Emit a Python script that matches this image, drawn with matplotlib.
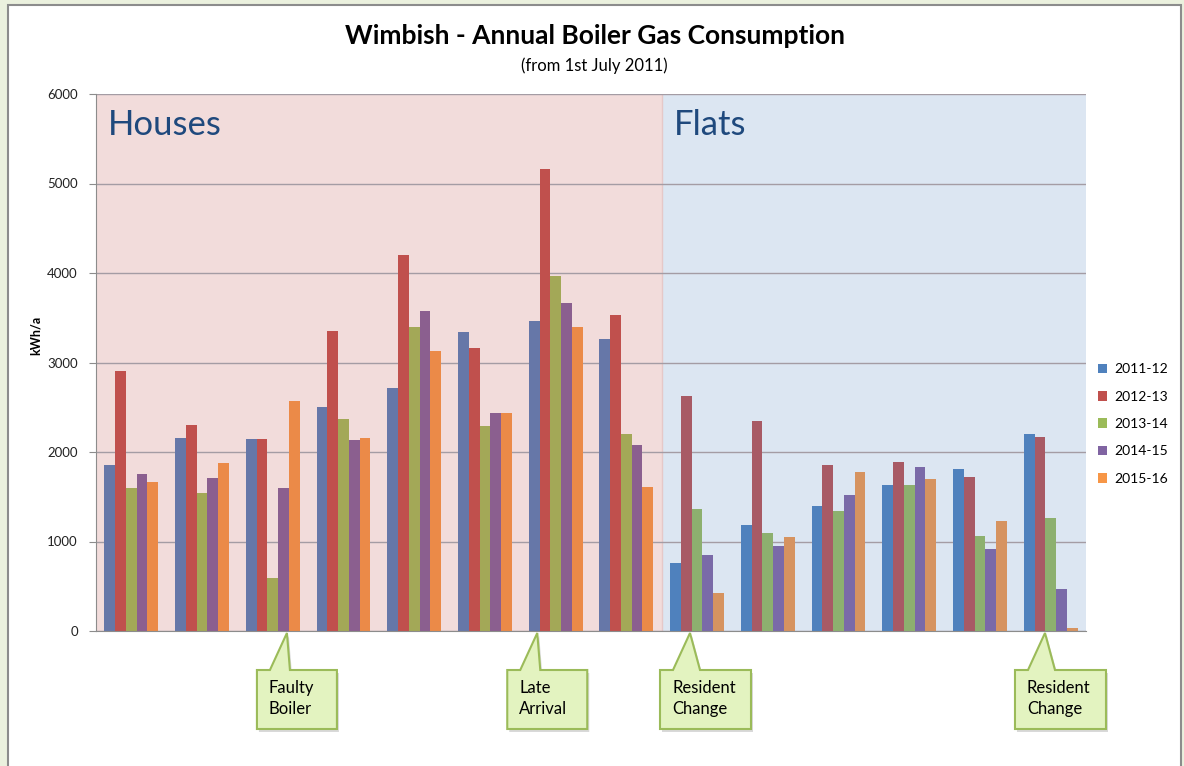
import matplotlib
matplotlib.use('Agg')
import matplotlib.pyplot as plt
import numpy as np
from matplotlib.patches import Patch, Polygon, Rectangle

plt.rcParams['font.family'] = ['Lato', 'DejaVu Sans']

# ---------------- data ----------------
units = ['House 1', 'House 2', 'House 3', 'House 4', 'House 5', 'House 6', 'House 7', 'House 8',
         'Flat 1', 'Flat 2', 'Flat 3', 'Flat 4', 'Flat 5', 'Flat 6']
n_houses = 8
years = ['2011-12', '2012-13', '2013-14', '2014-15', '2015-16']
y2011_12 = [1850, 2160, 2145, 2500, 2720, 3345, 3460, 3260, 760, 1180, 1400, 1630, 1810, 2205]
y2012_13 = [2910, 2305, 2145, 3355, 4200, 3160, 5160, 3530, 2625, 2350, 1860, 1885, 1725, 2165]
y2013_14 = [1600, 1540, 590, 2365, 3395, 2295, 3965, 2205, 1360, 1100, 1340, 1635, 1060, 1260]
y2014_15 = [1750, 1715, 1600, 2135, 3570, 2435, 3660, 2075, 845, 955, 1515, 1835, 915, 470]
y2015_16 = [1670, 1875, 2570, 2160, 3125, 2435, 3395, 1610, 420, 1050, 1780, 1700, 1230, 30]
series = [y2011_12, y2012_13, y2013_14, y2014_15, y2015_16]
yticks = [0, 1000, 2000, 3000, 4000, 5000, 6000]

callouts = [('Faulty\nBoiler', 2.20), ('Late\nArrival', 5.74),
            ('Resident\nChange', 7.90), ('Resident\nChange', 12.92)]

# ---------------- styles ----------------
legend_colors = ['#4F81BD', '#C0504D', '#9BBB59', '#8064A2', '#F79646']
house_colors = ['#6677A8', '#C0504D', '#A3A857', '#8B5F8F', '#EB8A48']
flat_colors = ['#4F81BD', '#A85A65', '#8DB06F', '#7A6AA8', '#D69360']

W, H = 1184, 766
fig = plt.figure(figsize=(W / 100, H / 100), dpi=100)
fig.patch.set_facecolor('#EBF1DE')
fig.patches.append(Rectangle((8 / W, -0.02), (1181 - 8) / W, (766 - 5) / H + 0.02,
                             transform=fig.transFigure, facecolor='white',
                             edgecolor='#8C8C8C', lw=1.5, zorder=-10))

ax = fig.add_axes([96 / W, 1 - 631 / H, (1086 - 96) / W, (631 - 94) / H], zorder=1)
ax.set_facecolor('none')
ax.set_xlim(-0.5, len(units) - 0.5)
ax.set_ylim(0, 6000)
ax.axvspan(-0.5, n_houses - 0.5, color='#F2DCDB', zorder=0, lw=0)
ax.axvspan(n_houses - 0.5, len(units) - 0.5, color='#DCE6F2', zorder=0, lw=0)
ax.axvline(n_houses - 0.5, color='#E6C8C8', lw=1.0, zorder=0.2)

ax.set_axisbelow(True)
ax.yaxis.grid(True, color='#A49CA4', lw=1.0)
ax.set_yticks(yticks)
ax.set_xticks([])
for s in ['top', 'right']:
    ax.spines[s].set_visible(False)
ax.spines['left'].set_color('#8C8C8C')
ax.spines['bottom'].set_color('#8C8C8C')
ax.tick_params(axis='y', direction='out', length=5, color='#8C8C8C', labelsize=9.5,
               pad=8, labelcolor='#222222')

w = 0.152
x = np.arange(len(units))
for i, vals in enumerate(series):
    cols = [house_colors[i] if k < n_houses else flat_colors[i] for k in range(len(units))]
    ax.bar(x + (i - 2) * w, vals, width=w, color=cols, zorder=2, lw=0)

# section labels
fig.text(108 / W, 1 - 125 / H, 'Houses', fontsize=25, color='#1F497D', va='center', ha='left')
fig.text(674 / W, 1 - 125 / H, 'Flats', fontsize=25, color='#1F497D', va='center', ha='left')

# titles
fig.text(595 / W, 1 - 36 / H, 'Wimbish - Annual Boiler Gas Consumption', fontsize=19,
         fontweight='bold', ha='center', va='center')
fig.text(594 / W, 1 - 66 / H, '(from 1st July 2011)', fontsize=12, ha='center', va='center')
fig.text(36 / W, 1 - 335 / H, 'kWh/a', fontsize=9, fontweight='bold', rotation=90,
         ha='center', va='center')

# legend
handles = [Patch(facecolor=c, edgecolor='none') for c in legend_colors]
fig.legend(handles, years, loc='center left', bbox_to_anchor=(1085 / W, 1 - 424 / H),
           frameon=False, fontsize=10, handlelength=0.7, handleheight=0.7,
           handletextpad=0.5, labelspacing=1.1)

# callouts
oax = fig.add_axes([0, 0, 1, 1], zorder=5)
oax.set_xlim(0, W)
oax.set_ylim(H, 0)
oax.axis('off')
fig.canvas.draw()
for text, tx in callouts:
    px = ax.transData.transform((tx, 0))[0]
    wide = 'Resident' in text
    bl, br = px - 30, px + (61 if wide else 50)
    b1, b2 = px - 17, px + (10 if wide else 3)
    top, bot, tip = 670, 729, 633
    pts = [(bl, top), (b1, top), (px, tip), (b2, top), (br, top), (br, bot), (bl, bot)]
    shadow = [(a + 2, b + 3) for a, b in pts]
    oax.add_patch(Polygon(shadow, closed=True, facecolor='#000000', alpha=0.15, lw=0))
    oax.add_patch(Polygon(pts, closed=True, facecolor='#E3F3C0', edgecolor='#9BBB59', lw=1.5))
    l1, l2 = text.split('\n')
    oax.text(bl + 12, 688, l1, fontsize=12, va='center', ha='left')
    oax.text(bl + 12, 709, l2, fontsize=12, va='center', ha='left')

fig.savefig('out.png', dpi=100, facecolor=fig.get_facecolor())
